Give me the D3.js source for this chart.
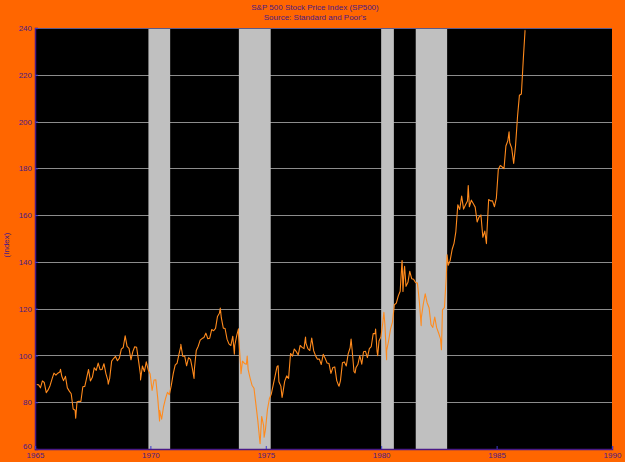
<!DOCTYPE html>
<html>
<head>
<meta charset="utf-8">
<script src="https://cdn.jsdelivr.net/npm/d3@7"></script>
<style>
  html, body { margin: 0; padding: 0; background: #ff6600; }
  svg { display: block; }
  text { font-family: "Liberation Sans", Arial, sans-serif; }
</style>
</head>
<body>
<div id="chart"></div>
<script>

// month-end closes, Jan 1965 onward
var closes1965_69 = [
  87.56, 87.43, 86.16, 89.11, 88.42, 84.12, 85.25, 87.17, 89.96, 92.42, 91.61, 92.43,
  92.88, 91.22, 89.23, 91.06, 86.13, 84.74, 83.60, 77.10, 76.56, 80.20, 80.45, 80.33,
  86.61, 86.78, 90.20, 94.01, 89.08, 90.64, 94.75, 93.64, 96.71, 93.90, 94.00, 96.47,
  92.24, 89.36, 90.20, 97.59, 98.68, 99.58, 97.74, 98.86, 102.67, 103.41, 108.37, 103.86,
  103.01, 98.13, 101.51, 103.69, 103.46, 97.71, 91.83, 95.51, 93.12, 97.24, 93.81, 92.06
];
var closes1970_74 = [
  85.02, 89.50, 89.63, 81.52, 76.55, 72.72, 78.05, 81.52, 84.21, 83.25, 87.20, 92.15,
  95.88, 96.75, 100.31, 103.95, 99.63, 99.70, 95.58, 99.03, 98.34, 94.23, 93.99, 102.09,
  103.94, 106.57, 107.20, 107.67, 109.53, 107.14, 107.39, 111.09, 110.55, 111.58, 116.67, 118.05,
  116.03, 111.68, 111.52, 106.97, 104.95, 104.26, 108.22, 104.25, 108.43, 108.29, 95.96, 97.55,
  96.57, 96.22, 93.98, 90.31, 87.28, 86.00, 79.31, 72.15, 63.54, 73.90, 69.97, 68.56
];
var closes1975_79 = [
  76.98, 81.59, 83.36, 87.30, 91.15, 95.19, 88.75, 86.88, 83.87, 89.04, 91.24, 90.19,
  100.86, 99.71, 102.77, 101.64, 100.18, 104.28, 103.44, 102.91, 105.24, 102.90, 102.10, 107.46,
  102.03, 99.82, 98.42, 98.44, 96.12, 100.48, 98.85, 96.77, 96.53, 92.34, 94.83, 95.10,
  89.25, 87.04, 89.21, 96.83, 97.24, 95.53, 100.68, 103.29, 102.54, 93.15, 94.70, 96.11,
  99.93, 96.28, 101.59, 101.76, 99.08, 102.91, 103.81, 109.32, 109.32, 101.82, 106.16, 107.94
];
var closes1980_86 = [
  114.16, 113.66, 102.09, 106.29, 111.24, 114.24, 121.67, 122.38, 125.46, 127.47, 140.52, 135.76,
  129.55, 131.27, 136.00, 132.81, 132.59, 131.21, 130.92, 122.79, 116.18, 121.89, 126.35, 122.55,
  120.40, 113.11, 111.96, 116.44, 111.88, 109.61, 107.09, 119.51, 120.42, 133.71, 138.54, 140.64,
  145.30, 148.06, 152.96, 164.42, 162.39, 168.11, 162.56, 164.40, 166.07, 163.55, 166.40, 164.93,
  163.41, 157.06, 159.18, 160.05, 150.55, 153.18, 150.66, 166.68, 166.10, 166.09, 163.58, 167.24,
  179.63, 181.18, 180.66, 179.83, 189.55, 191.85, 190.92, 188.63, 182.08, 189.82, 202.17, 211.28,
  211.78, 226.92, 238.90
];

// intra-month highs and lows seen on the chart
var swingDates = [
  "1966-02-09", "1966-10-07", "1968-03-05", "1969-07-29", "1970-05-26", "1971-04-28",
  "1971-11-23", "1973-01-11", "1973-08-22", "1973-10-26", "1973-12-05", "1974-03-13",
  "1974-10-03", "1974-12-06", "1975-07-15", "1975-09-16", "1976-09-21", "1978-03-06",
  "1978-09-12", "1978-11-14", "1979-10-05", "1979-11-07", "1980-02-13", "1980-03-27",
  "1980-11-26", "1980-12-11", "1981-01-06", "1981-09-25", "1982-08-12", "1982-11-09",
  "1983-10-10", "1984-07-24", "1985-07-17", "1986-03-27"
];
var swingValues = [
  94.06, 73.20, 87.72, 89.48, 72.00, 104.77,
  90.16, 120.24, 100.53, 111.38, 92.16, 99.74,
  62.28, 65.01, 95.61, 82.09, 107.83, 86.90,
  106.99, 92.49, 111.27, 99.87, 118.44, 98.22,
  140.52, 127.36, 138.12, 112.77, 102.42, 143.02,
  172.65, 147.82, 195.65, 238.97
];

var recessionStarts = ["1969-12-01", "1973-11-01", "1980-01-01", "1981-07-01"];
var recessionEnds   = ["1970-11-10", "1975-03-20", "1980-07-20", "1982-11-10"];

var yTicks = [60, 80, 100, 120, 140, 160, 180, 200, 220, 240];
var xTickYears = [1965, 1970, 1975, 1980, 1985, 1990];

var titleLines = ["S&P 500 Stock Price Index (SP500)", "Source: Standard and Poor's"];
var yLabel = "(Index)";

function drawChart() {

  var width = 625, height = 462;
  var plotLeft = 35, plotRight = 612, plotTop = 28, plotBottom = 449;
  var textColor = "#4a1a86";

  var parseDay = d3.timeParse("%Y-%m-%d");

  // build the series: monthly closes + swing points, sorted by date
  var monthly = [].concat(closes1965_69, closes1970_74, closes1975_79, closes1980_86);
  var series = monthly.map(function(v, i) {
    return { date: new Date(1965, i, 28), value: v };
  });
  swingDates.forEach(function(d, i) {
    series.push({ date: parseDay(d), value: swingValues[i] });
  });
  series.sort(function(a, b) { return a.date - b.date; });

  var x = d3.scaleTime()
            .domain([new Date(1965, 0, 1), new Date(1990, 0, 1)])
            .range([plotLeft, plotRight]);
  var y = d3.scaleLinear().domain([60, 240]).range([plotBottom, plotTop]);

  var svg = d3.select("#chart").append("svg")
              .attr("width", width).attr("height", height);

  svg.append("rect").attr("width", width).attr("height", height).attr("fill", "#ff6600");

  // plot background
  svg.append("rect")
     .attr("x", plotLeft).attr("y", plotTop)
     .attr("width", plotRight - plotLeft).attr("height", plotBottom - plotTop)
     .attr("fill", "#000");

  // gridlines
  svg.append("g").selectAll("line")
     .data(yTicks.filter(function(d) { return d > 60 && d < 240; }))
     .enter().append("line")
     .attr("x1", plotLeft).attr("x2", plotRight)
     .attr("y1", function(d) { return Math.round(y(d)) + 0.5; })
     .attr("y2", function(d) { return Math.round(y(d)) + 0.5; })
     .attr("stroke", "#8c8c8c").attr("stroke-width", 1);

  // recession bands
  svg.append("g").selectAll("rect")
     .data(recessionStarts)
     .enter().append("rect")
     .attr("x", function(d) { return x(parseDay(d)); })
     .attr("y", plotTop)
     .attr("width", function(d, i) { return x(parseDay(recessionEnds[i])) - x(parseDay(d)); })
     .attr("height", plotBottom - plotTop)
     .attr("fill", "#c0c0c0");

  // the index line
  var line = d3.line()
               .x(function(d) { return x(d.date); })
               .y(function(d) { return y(d.value); });

  svg.append("path")
     .datum(series)
     .attr("d", line)
     .attr("fill", "none")
     .attr("stroke", "#ff8a1c")
     .attr("stroke-width", 1.1)
     .attr("stroke-linejoin", "round");

  // top border
  svg.append("line")
     .attr("x1", plotLeft).attr("x2", plotRight)
     .attr("y1", plotTop + 0.5).attr("y2", plotTop + 0.5)
     .attr("stroke", "#5a5a8a");

  // axes
  var yAxis = d3.axisLeft(y).tickValues(yTicks).tickSize(-3).tickPadding(4);
  var gy = svg.append("g").attr("transform", "translate(" + plotLeft + ",0)").call(yAxis);

  var xAxis = d3.axisBottom(x)
                .tickValues(xTickYears.map(function(yr) { return new Date(yr, 0, 1); }))
                .tickFormat(d3.timeFormat("%Y"))
                .tickSize(-3).tickPadding(4);
  var gx = svg.append("g").attr("transform", "translate(0," + plotBottom + ")").call(xAxis);

  [gx, gy].forEach(function(g) {
    g.select(".domain").attr("stroke", textColor).attr("stroke-width", 1.5);
    g.selectAll(".tick line").attr("stroke", "#3c3cd0");
    g.selectAll(".tick text")
     .attr("fill", textColor)
     .style("font-size", "8px")
     .style("font-family", "'Liberation Sans', Arial, sans-serif");
  });
  gy.selectAll(".tick text").attr("x", -3);
  gy.selectAll(".tick text").filter(function(d) { return d === 60; }).attr("dy", "-0.1em");
  gx.selectAll(".tick text").attr("y", 3);

  // titles
  svg.append("g").selectAll("text")
     .data(titleLines)
     .enter().append("text")
     .attr("x", 315)
     .attr("y", function(d, i) { return 10 + i * 10; })
     .attr("text-anchor", "middle")
     .attr("fill", textColor)
     .style("font-size", "8px")
     .text(function(d) { return d; });

  svg.append("text")
     .attr("transform", "translate(9,245) rotate(-90)")
     .attr("text-anchor", "middle")
     .attr("fill", textColor)
     .style("font-size", "8px")
     .text(yLabel);
}

drawChart();

</script>
</body>
</html>
